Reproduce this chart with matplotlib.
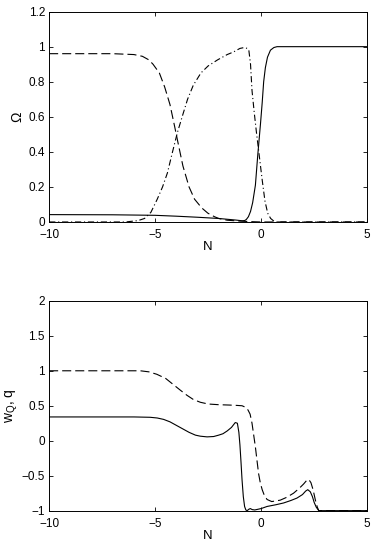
import matplotlib
matplotlib.use('Agg')
import matplotlib.pyplot as plt

plt.rcParams['font.family'] = ['Liberation Sans', 'DejaVu Sans']
plt.rcParams['font.size'] = 8.5
plt.rcParams['mathtext.fontset'] = 'custom'
plt.rcParams['mathtext.rm'] = 'Liberation Sans'
plt.rcParams['mathtext.it'] = 'Liberation Sans'
plt.rcParams['lines.scale_dashes'] = False

# Top panel: density parameters vs N
N_rad = [-10, -7, -6.0, -5.6, -5.3, -5.1, -4.8, -4.55, -4.3, -4.08, -3.9, -3.69, -3.4, -3.14,
         -2.8, -2.51, -2.2, -2.0, -1.6, -1.0, -0.5, 0, 5]
om_rad = [0.96, 0.96, 0.955, 0.945, 0.925, 0.90, 0.85, 0.77, 0.67, 0.545, 0.44, 0.32, 0.2, 0.13,
          0.08, 0.05, 0.03, 0.02, 0.01, 0.005, 0.002, 0.0, 0.0]

N_mat = [-10, -6.4, -5.8, -5.5, -5.2, -4.9, -4.65, -4.42, -4.2, -3.95, -3.7, -3.47, -3.2, -2.84,
         -2.5, -2.05, -1.6, -1.3, -1.0, -0.8, -0.65, -0.58, -0.5, -0.43, -0.33, -0.22, -0.08,
         0.05, 0.18, 0.31, 0.45, 0.6, 0.75, 5]
om_mat = [0.0, 0.0, 0.008, 0.02, 0.055, 0.13, 0.2, 0.28, 0.39, 0.51, 0.61, 0.70, 0.78, 0.85,
          0.89, 0.925, 0.955, 0.97, 0.99, 0.995, 0.99, 0.98, 0.9, 0.75, 0.63, 0.51, 0.37,
          0.24, 0.12, 0.05, 0.02, 0.005, 0.0, 0.0]

N_de = [-10, -7, -5, -4, -3, -2, -1.2, -0.9, -0.78, -0.7, -0.6, -0.5, -0.4, -0.27, -0.16,
        -0.03, 0.05, 0.12, 0.2, 0.3, 0.44, 0.6, 0.75, 5]
om_de = [0.042, 0.041, 0.038, 0.033, 0.027, 0.02, 0.011, 0.007, 0.008, 0.014, 0.03, 0.06, 0.11,
         0.21, 0.38, 0.56, 0.68, 0.8, 0.88, 0.94, 0.98, 0.995, 1.0, 1.0]

# Bottom panel: w_Q and q vs N
N_w = [-10, -6, -5.23, -4.9, -4.6, -4.3, -4.0, -3.7, -3.4, -3.1, -2.87, -2.55, -2.24, -2.0,
       -1.8, -1.6, -1.4, -1.22, -1.12, -1.05, -1.0, -0.95, -0.9, -0.84, -0.78, -0.72, -0.66,
       -0.58, -0.51, -0.42, -0.3, 0.0, 0.28, 0.7, 1.06, 1.4, 1.69, 1.95, 2.1, 2.2, 2.32, 2.42,
       2.5, 2.6, 2.72, 5]
w_Q = [0.34, 0.34, 0.335, 0.325, 0.305, 0.27, 0.22, 0.17, 0.12, 0.08, 0.065, 0.055, 0.06, 0.08,
       0.1, 0.14, 0.19, 0.26, 0.25, 0.12, -0.06, -0.3, -0.56, -0.8, -0.94, -0.99, -1.0,
       -0.98, -0.97, -0.985, -0.99, -0.97, -0.94, -0.915, -0.89, -0.855, -0.82, -0.77, -0.72,
       -0.70, -0.73, -0.8, -0.88, -0.95, -1.0, -1.0]

N_q = [-10, -5.7, -5.3, -4.92, -4.5, -4.13, -3.8, -3.5, -3.2, -2.87, -2.5, -2.0, -1.5, -1.15,
       -0.9, -0.75, -0.62, -0.52, -0.43, -0.35, -0.27, -0.2, -0.12, -0.04, 0.05, 0.15, 0.28,
       0.5, 0.9, 1.2, 1.53, 1.8, 2.0, 2.17, 2.25, 2.35, 2.45, 2.56, 2.65, 2.72, 5]
q = [1.0, 1.0, 0.985, 0.95, 0.89, 0.80, 0.72, 0.65, 0.59, 0.55, 0.525, 0.515, 0.51, 0.505,
     0.5, 0.48, 0.44, 0.38, 0.25, 0.08, -0.09, -0.27, -0.47, -0.6, -0.70, -0.78, -0.84,
     -0.87, -0.85, -0.81, -0.75, -0.68, -0.62, -0.56, -0.555, -0.6, -0.7, -0.85, -0.95, -1.0, -1.0]

fig = plt.figure(figsize=(3.75, 5.45), dpi=100)
ax1 = fig.add_axes([0.131, 0.5927, 0.848, 0.386])
ax2 = fig.add_axes([0.131, 0.063, 0.848, 0.385])

lw = 0.8
ax1.plot(N_rad, om_rad, color='k', lw=lw, dashes=(6.5, 2.9))
ax1.plot(N_mat, om_mat, color='k', lw=lw, dashes=(4.5, 2.0, 0.8, 2.0))
ax1.plot(N_de, om_de, color='k', lw=lw)
ax1.set_xlim(-10, 5)
ax1.set_ylim(0, 1.2)
ax1.set_xticks([-10, -5, 0, 5])
ax1.set_yticks([0, 0.2, 0.4, 0.6, 0.8, 1.0, 1.2])
ax1.set_yticklabels(['0', '0.2', '0.4', '0.6', '0.8', '1', '1.2'])
ax1.set_xlabel('N', fontsize=9.5, labelpad=0)
ax1.set_ylabel('Ω', fontsize=10, labelpad=3)

ax2.plot(N_q, q, color='k', lw=lw, dashes=(6.5, 2.9))
ax2.plot(N_w, w_Q, color='k', lw=lw)
ax2.set_xlim(-10, 5)
ax2.set_ylim(-1, 2)
ax2.set_xticks([-10, -5, 0, 5])
ax2.set_yticks([-1, -0.5, 0, 0.5, 1, 1.5, 2])
ax2.set_yticklabels(['\u22121', '\u22120.5', '0', '0.5', '1', '1.5', '2'])
ax2.set_xlabel('N', fontsize=9.5, labelpad=0)
ax2.set_ylabel(r'w$_{\rm Q}$, q', fontsize=10, labelpad=1)

for ax in (ax1, ax2):
    ax.tick_params(direction='in', top=True, right=True, length=3, width=0.6, labelsize=8.5)
    ax.tick_params(axis='x', pad=5)
    ax.tick_params(axis='y', pad=3)
    for s in ax.spines.values():
        s.set_linewidth(0.7)

fig.savefig('out.png', dpi=100)
